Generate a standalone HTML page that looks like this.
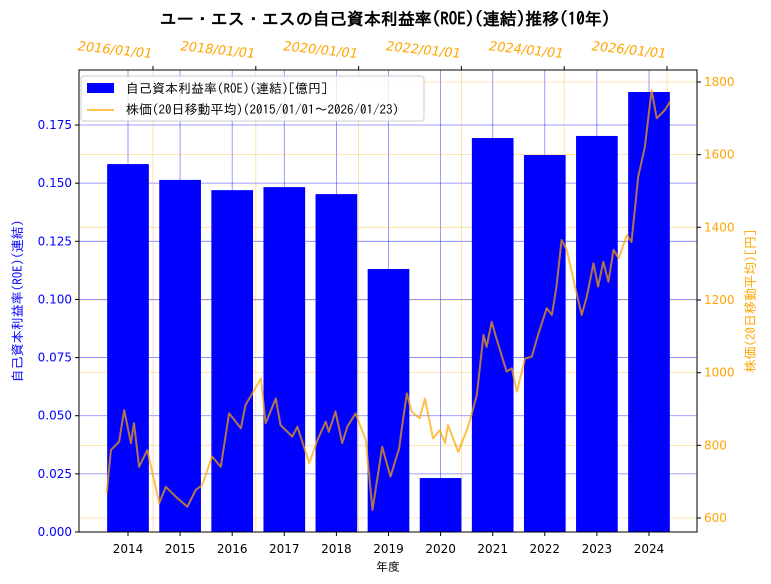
<!DOCTYPE html>
<html><head><meta charset="utf-8"><style>
body{margin:0;background:#fff;}
svg{display:block;font-family:"IPAGothic","Noto Sans CJK JP",sans-serif;}
.tk{font-family:"DejaVu Sans",sans-serif;}
</style></head><body>
<svg id="chart" width="771" height="584" viewBox="0 0 771 584" xmlns="http://www.w3.org/2000/svg">
<text x="385" y="25" text-anchor="middle" font-size="17" font-weight="bold">ユー・エス・エスの自己資本利益率(ROE)(連結)推移(10年)</text>
<g id="grid"></g><g id="bars"></g><g id="line"></g><g id="axes"></g>
<text x="388" y="571" text-anchor="middle" font-size="12">年度</text>
<text transform="translate(22,301) rotate(-90)" text-anchor="middle" font-size="13" fill="#0000ff">自己資本利益率(ROE)(連結)</text>
<text transform="translate(755,301) rotate(-90)" text-anchor="middle" font-size="13" fill="#ffa500">株価(20日移動平均)[円]</text>
<g>
<rect x="81" y="76" width="343" height="45" rx="3" fill="#fff" fill-opacity="0.8" stroke="#ccc"/>
<rect x="87" y="83" width="27" height="10" fill="#0000ff"/>
<text x="126" y="93" font-size="13">自己資本利益率(ROE)(連結)[億円]</text>
<line x1="87" y1="110" x2="114" y2="110" stroke="#ffa500" stroke-opacity="0.7" stroke-width="2"/>
<text x="126" y="114" font-size="13">株価(20日移動平均)(2015/01/01～2026/01/23)</text>
</g>
</svg>
<script>
const fiscalYears=[2014,2015,2016,2017,2018,2019,2020,2021,2022,2023,2024];
const roeValues=[0.1582,0.1514,0.1470,0.1483,0.1453,0.1131,0.0232,0.1694,0.1621,0.1703,0.1892];
const leftTicks=[0,0.025,0.05,0.075,0.1,0.125,0.15,0.175];
const rightTicks=[600,800,1000,1200,1400,1600,1800];
const dateTickYears=[2016,2018,2020,2022,2024,2026];
const dateTickLabels=["2016/01/01","2018/01/01","2020/01/01","2022/01/01","2024/01/01","2026/01/01"];
const priceDates=[2015.10,2015.18,2015.34,2015.44,2015.57,2015.63,2015.73,2015.89,2016.12,2016.25,2016.44,2016.67,2016.83,2016.96,2017.15,2017.32,2017.48,2017.71,2017.80,2018.10,2018.19,2018.39,2018.48,2018.71,2018.81,2019.04,2019.20,2019.36,2019.42,2019.55,2019.68,2019.78,2019.94,2020.14,2020.27,2020.46,2020.62,2020.79,2020.84,2020.94,2021.03,2021.19,2021.29,2021.45,2021.58,2021.68,2021.74,2021.94,2022.13,2022.30,2022.43,2022.49,2022.59,2022.69,2022.88,2022.98,2023.08,2023.24,2023.37,2023.50,2023.66,2023.76,2023.85,2023.95,2024.05,2024.21,2024.34,2024.44,2024.57,2024.66,2024.76,2024.86,2024.96,2025.06,2025.22,2025.31,2025.44,2025.57,2025.70,2025.80,2025.96,2026.06];
const priceValues=[668,787,810,897,806,861,741,787,641,686,659,631,677,691,769,741,888,847,911,984,861,929,856,824,851,751,815,865,837,893,806,851,888,815,622,796,714,792,847,943,893,874,929,819,842,806,856,782,851,938,1104,1071,1140,1090,1003,1012,948,1039,1044,1108,1177,1159,1237,1365,1338,1237,1159,1209,1301,1237,1305,1250,1338,1315,1379,1360,1539,1622,1778,1700,1723,1746];

const L=79,R=697,T=70,B=532;
const NS="http://www.w3.org/2000/svg";
const xB=y=>128+(y-2014)*52.1;
const yL=v=>B-v/0.025*58.14;
const yR=p=>518-(p-600)/200*72.67;
const xT=d=>153+(d-2016)*51.4;
function mk(tag,attrs,parent,txt){const e=document.createElementNS(NS,tag);for(const k in attrs)e.setAttribute(k,attrs[k]);if(txt!==undefined)e.textContent=txt;document.getElementById(parent).appendChild(e);return e;}
leftTicks.forEach(v=>{const g=mk('line',{x1:L,x2:R,y1:yL(v),y2:yL(v),stroke:'#0000ff','stroke-opacity':0.5,'stroke-width':0.8},'grid');

});
fiscalYears.forEach(y=>{const g=mk('line',{x1:xB(y),x2:xB(y),y1:T,y2:B,stroke:'#0000ff','stroke-opacity':0.5,'stroke-width':0.8},'grid');

});
rightTicks.forEach(p=>{const g=mk('line',{x1:L,x2:R,y1:yR(p),y2:yR(p),stroke:'#ffa500','stroke-opacity':0.4,'stroke-width':0.8},'grid');

});
dateTickYears.forEach(d=>{const g=mk('line',{x1:xT(d),x2:xT(d),y1:T,y2:B,stroke:'#ffa500','stroke-opacity':0.4,'stroke-width':0.8},'grid');

});
fiscalYears.forEach((y,i)=>{const w=0.8*52.1;const b=mk('rect',{x:xB(y)-w/2,y:yL(roeValues[i]),width:w,height:B-yL(roeValues[i]),fill:'#0000ff'},'bars');

});
const pts=priceDates.map((d,i)=>xT(d).toFixed(1)+','+yR(priceValues[i]).toFixed(1)).join(' ');
const pl=mk('polyline',{points:pts,fill:'none',stroke:'#ffa500','stroke-opacity':0.7,'stroke-width':2,'stroke-linejoin':'round'},'line');


const fr=mk('rect',{x:L,y:T,width:R-L,height:B-T,fill:'none',stroke:'#000','stroke-width':1},'axes');


leftTicks.forEach(v=>{mk('line',{x1:L-4,x2:L,y1:yL(v),y2:yL(v),stroke:'#000'},'axes');
const t=mk('text',{class:'tk',x:L-7,y:yL(v)+4,'text-anchor':'end','font-size':12,fill:'#0000ff'},'axes',v.toFixed(3));

});
rightTicks.forEach(p=>{mk('line',{x1:R,x2:R+4,y1:yR(p),y2:yR(p),stroke:'#000'},'axes');
const t=mk('text',{class:'tk',x:R+7,y:yR(p)+4,'font-size':12,fill:'#ffa500'},'axes',String(p));

});
fiscalYears.forEach(y=>{mk('line',{x1:xB(y),x2:xB(y),y1:B,y2:B+4,stroke:'#000'},'axes');
const t=mk('text',{class:'tk',x:xB(y),y:B+21,'text-anchor':'middle','font-size':12},'axes',String(y));

});
dateTickYears.forEach((d,i)=>{mk('line',{x1:xT(d),x2:xT(d),y1:T-4,y2:T,stroke:'#000'},'axes');
const t=mk('text',{class:'tk',transform:'translate('+(xT(d)-2)+',58) rotate(6) skewX(-10)','text-anchor':'end','font-size':13,fill:'#ffa500'},'axes',dateTickLabels[i]);

});
</script>
</body></html>
